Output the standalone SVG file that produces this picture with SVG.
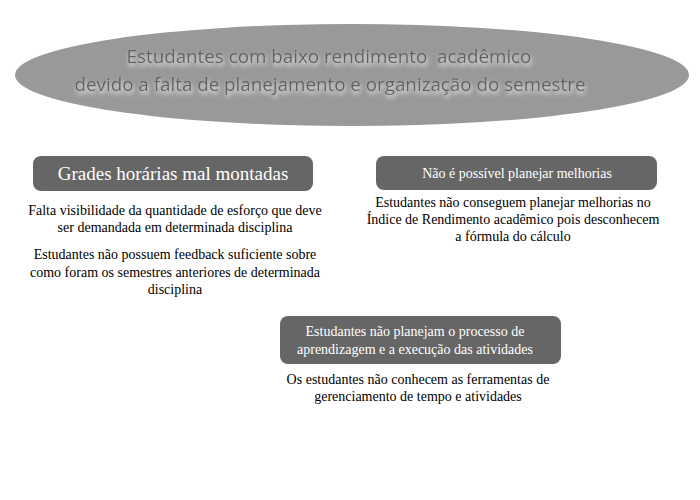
<svg xmlns="http://www.w3.org/2000/svg" width="700" height="500" viewBox="0 0 700 500">
<defs>
<filter id="glow" x="-10%" y="-50%" width="120%" height="200%">
<feGaussianBlur in="SourceAlpha" stdDeviation="2" result="b"/>
<feFlood flood-color="#ffffff" flood-opacity="0.9"/>
<feComposite in2="b" operator="in" result="s"/>
<feOffset dx="1" dy="3" result="o"/>
<feMerge><feMergeNode in="o"/><feMergeNode in="SourceGraphic"/></feMerge>
</filter>
</defs>
<style>
.box{fill:#666666;}
.bt{font-family:'Liberation Serif','Times New Roman',serif;fill:#ffffff;text-anchor:middle;}
.body{font-family:'Liberation Serif','Times New Roman',serif;font-size:14px;fill:#000000;text-anchor:middle;}
.title{font-family:'Open Sans','Lato',sans-serif;font-size:18.8px;fill:#606060;text-anchor:middle;}
</style>
<rect width="700" height="500" fill="#ffffff"/>
<g id="root">
<ellipse cx="352" cy="75" rx="337" ry="51" fill="#999999"/>
<g filter="url(#glow)">
<text class="title" x="329" y="63" xml:space="preserve" style="white-space:pre">Estudantes com baixo rendimento  acadêmico</text>
<text class="title" x="330" y="91">devido a falta de planejamento e organização do semestre</text>
</g>
</g>
<g id="node1">
<rect class="box" x="33" y="156" width="280" height="35" rx="8"/>
<text class="bt" x="173" y="180" font-size="19">Grades horárias mal montadas</text>
<text class="body" x="175" y="215">Falta visibilidade da quantidade de esforço que deve</text>
<text class="body" x="175" y="232">ser demandada em determinada disciplina</text>
<text class="body" x="175" y="259">Estudantes não possuem feedback suficiente sobre</text>
<text class="body" x="175" y="277">como foram os semestres anteriores de determinada</text>
<text class="body" x="175" y="294">disciplina</text>
</g>
<g id="node2">
<rect class="box" x="376" y="156" width="281" height="34" rx="8"/>
<text class="bt" x="517" y="178" font-size="14">Não é possível planejar melhorias</text>
<text class="body" x="513" y="207">Estudantes não conseguem planejar melhorias no</text>
<text class="body" x="513" y="224">Índice de Rendimento acadêmico pois desconhecem</text>
<text class="body" x="513" y="241">a fórmula do cálculo</text>
</g>
<g id="node3">
<rect class="box" x="280" y="316" width="281" height="48" rx="8"/>
<text class="bt" x="415" y="336" font-size="14">Estudantes não planejam o processo de</text>
<text class="bt" x="415" y="354" font-size="14">aprendizagem e a execução das atividades</text>
<text class="body" x="418" y="384">Os estudantes não conhecem as ferramentas de</text>
<text class="body" x="418" y="401">gerenciamento de tempo e atividades</text>
</g>
<g id="connectors"></g>
</svg>
